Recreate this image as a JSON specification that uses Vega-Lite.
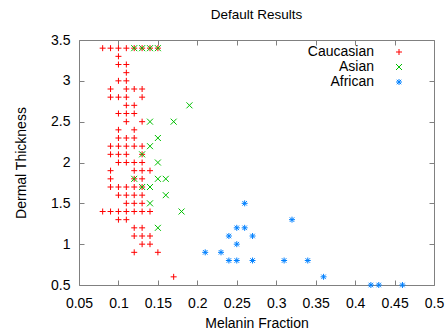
{
  "$schema": "https://vega.github.io/schema/vega-lite/v6.json",
  "width": 355,
  "height": 245,
  "autosize": {"type": "none"},
  "padding": {"left": 79, "top": 40, "right": 12, "bottom": 48},
  "title": {"text": "Default Results", "fontSize": 13.5, "fontWeight": "normal", "font": "Liberation Sans", "color": "#000000", "offset": 12},
  "config": {
    "view": {"stroke": "#808080", "strokeWidth": 1},
    "axis": {"domain": false, "grid": false, "tickColor": "#808080", "tickSize": -5, "labelFlush": false, "labelFont": "Liberation Sans", "titleFont": "Liberation Sans", "labelFontSize": 14, "titleFontSize": 14, "labelColor": "#000000", "titleColor": "#000000", "titleFontWeight": "normal"},
    "legend": {"labelFont": "Liberation Sans", "labelFontSize": 14, "labelColor": "#000000", "labelAlign": "right", "labelOffset": -32, "symbolSize": 36, "symbolStrokeWidth": 1, "rowPadding": 1, "padding": 0}
  },
  "data": {"values": [
    {"melanin": 0.08, "thickness": 3.4, "population": "Caucasian"},
    {"melanin": 0.09, "thickness": 3.4, "population": "Caucasian"},
    {"melanin": 0.10, "thickness": 3.4, "population": "Caucasian"},
    {"melanin": 0.11, "thickness": 3.4, "population": "Caucasian"},
    {"melanin": 0.12, "thickness": 3.4, "population": "Caucasian"},
    {"melanin": 0.13, "thickness": 3.4, "population": "Caucasian"},
    {"melanin": 0.14, "thickness": 3.4, "population": "Caucasian"},
    {"melanin": 0.15, "thickness": 3.4, "population": "Caucasian"},
    {"melanin": 0.10, "thickness": 3.3, "population": "Caucasian"},
    {"melanin": 0.10, "thickness": 3.2, "population": "Caucasian"},
    {"melanin": 0.11, "thickness": 3.2, "population": "Caucasian"},
    {"melanin": 0.11, "thickness": 3.1, "population": "Caucasian"},
    {"melanin": 0.10, "thickness": 3.0, "population": "Caucasian"},
    {"melanin": 0.11, "thickness": 3.0, "population": "Caucasian"},
    {"melanin": 0.09, "thickness": 2.9, "population": "Caucasian"},
    {"melanin": 0.11, "thickness": 2.9, "population": "Caucasian"},
    {"melanin": 0.12, "thickness": 2.9, "population": "Caucasian"},
    {"melanin": 0.13, "thickness": 2.9, "population": "Caucasian"},
    {"melanin": 0.09, "thickness": 2.8, "population": "Caucasian"},
    {"melanin": 0.10, "thickness": 2.8, "population": "Caucasian"},
    {"melanin": 0.11, "thickness": 2.8, "population": "Caucasian"},
    {"melanin": 0.13, "thickness": 2.8, "population": "Caucasian"},
    {"melanin": 0.11, "thickness": 2.7, "population": "Caucasian"},
    {"melanin": 0.12, "thickness": 2.7, "population": "Caucasian"},
    {"melanin": 0.10, "thickness": 2.6, "population": "Caucasian"},
    {"melanin": 0.11, "thickness": 2.6, "population": "Caucasian"},
    {"melanin": 0.12, "thickness": 2.6, "population": "Caucasian"},
    {"melanin": 0.11, "thickness": 2.5, "population": "Caucasian"},
    {"melanin": 0.13, "thickness": 2.5, "population": "Caucasian"},
    {"melanin": 0.10, "thickness": 2.4, "population": "Caucasian"},
    {"melanin": 0.12, "thickness": 2.4, "population": "Caucasian"},
    {"melanin": 0.10, "thickness": 2.3, "population": "Caucasian"},
    {"melanin": 0.11, "thickness": 2.3, "population": "Caucasian"},
    {"melanin": 0.12, "thickness": 2.3, "population": "Caucasian"},
    {"melanin": 0.09, "thickness": 2.2, "population": "Caucasian"},
    {"melanin": 0.10, "thickness": 2.2, "population": "Caucasian"},
    {"melanin": 0.11, "thickness": 2.2, "population": "Caucasian"},
    {"melanin": 0.12, "thickness": 2.2, "population": "Caucasian"},
    {"melanin": 0.13, "thickness": 2.2, "population": "Caucasian"},
    {"melanin": 0.09, "thickness": 2.1, "population": "Caucasian"},
    {"melanin": 0.10, "thickness": 2.1, "population": "Caucasian"},
    {"melanin": 0.11, "thickness": 2.1, "population": "Caucasian"},
    {"melanin": 0.13, "thickness": 2.1, "population": "Caucasian"},
    {"melanin": 0.10, "thickness": 2.0, "population": "Caucasian"},
    {"melanin": 0.11, "thickness": 2.0, "population": "Caucasian"},
    {"melanin": 0.12, "thickness": 2.0, "population": "Caucasian"},
    {"melanin": 0.13, "thickness": 2.0, "population": "Caucasian"},
    {"melanin": 0.09, "thickness": 1.9, "population": "Caucasian"},
    {"melanin": 0.12, "thickness": 1.9, "population": "Caucasian"},
    {"melanin": 0.13, "thickness": 1.9, "population": "Caucasian"},
    {"melanin": 0.14, "thickness": 1.9, "population": "Caucasian"},
    {"melanin": 0.09, "thickness": 1.8, "population": "Caucasian"},
    {"melanin": 0.12, "thickness": 1.8, "population": "Caucasian"},
    {"melanin": 0.13, "thickness": 1.8, "population": "Caucasian"},
    {"melanin": 0.09, "thickness": 1.7, "population": "Caucasian"},
    {"melanin": 0.10, "thickness": 1.7, "population": "Caucasian"},
    {"melanin": 0.11, "thickness": 1.7, "population": "Caucasian"},
    {"melanin": 0.12, "thickness": 1.7, "population": "Caucasian"},
    {"melanin": 0.13, "thickness": 1.7, "population": "Caucasian"},
    {"melanin": 0.10, "thickness": 1.6, "population": "Caucasian"},
    {"melanin": 0.11, "thickness": 1.6, "population": "Caucasian"},
    {"melanin": 0.12, "thickness": 1.6, "population": "Caucasian"},
    {"melanin": 0.13, "thickness": 1.6, "population": "Caucasian"},
    {"melanin": 0.11, "thickness": 1.5, "population": "Caucasian"},
    {"melanin": 0.12, "thickness": 1.5, "population": "Caucasian"},
    {"melanin": 0.13, "thickness": 1.5, "population": "Caucasian"},
    {"melanin": 0.08, "thickness": 1.4, "population": "Caucasian"},
    {"melanin": 0.09, "thickness": 1.4, "population": "Caucasian"},
    {"melanin": 0.10, "thickness": 1.4, "population": "Caucasian"},
    {"melanin": 0.11, "thickness": 1.4, "population": "Caucasian"},
    {"melanin": 0.12, "thickness": 1.4, "population": "Caucasian"},
    {"melanin": 0.13, "thickness": 1.4, "population": "Caucasian"},
    {"melanin": 0.14, "thickness": 1.4, "population": "Caucasian"},
    {"melanin": 0.10, "thickness": 1.3, "population": "Caucasian"},
    {"melanin": 0.11, "thickness": 1.3, "population": "Caucasian"},
    {"melanin": 0.12, "thickness": 1.2, "population": "Caucasian"},
    {"melanin": 0.13, "thickness": 1.2, "population": "Caucasian"},
    {"melanin": 0.12, "thickness": 1.1, "population": "Caucasian"},
    {"melanin": 0.13, "thickness": 1.1, "population": "Caucasian"},
    {"melanin": 0.14, "thickness": 1.1, "population": "Caucasian"},
    {"melanin": 0.13, "thickness": 1.0, "population": "Caucasian"},
    {"melanin": 0.14, "thickness": 1.0, "population": "Caucasian"},
    {"melanin": 0.12, "thickness": 0.9, "population": "Caucasian"},
    {"melanin": 0.15, "thickness": 0.9, "population": "Caucasian"},
    {"melanin": 0.17, "thickness": 0.6, "population": "Caucasian"},
    {"melanin": 0.12, "thickness": 3.4, "population": "Asian"},
    {"melanin": 0.13, "thickness": 3.4, "population": "Asian"},
    {"melanin": 0.14, "thickness": 3.4, "population": "Asian"},
    {"melanin": 0.15, "thickness": 3.4, "population": "Asian"},
    {"melanin": 0.19, "thickness": 2.7, "population": "Asian"},
    {"melanin": 0.14, "thickness": 2.5, "population": "Asian"},
    {"melanin": 0.17, "thickness": 2.5, "population": "Asian"},
    {"melanin": 0.15, "thickness": 2.3, "population": "Asian"},
    {"melanin": 0.14, "thickness": 2.2, "population": "Asian"},
    {"melanin": 0.13, "thickness": 2.1, "population": "Asian"},
    {"melanin": 0.15, "thickness": 2.0, "population": "Asian"},
    {"melanin": 0.12, "thickness": 1.8, "population": "Asian"},
    {"melanin": 0.15, "thickness": 1.8, "population": "Asian"},
    {"melanin": 0.16, "thickness": 1.8, "population": "Asian"},
    {"melanin": 0.13, "thickness": 1.7, "population": "Asian"},
    {"melanin": 0.14, "thickness": 1.7, "population": "Asian"},
    {"melanin": 0.16, "thickness": 1.6, "population": "Asian"},
    {"melanin": 0.14, "thickness": 1.5, "population": "Asian"},
    {"melanin": 0.18, "thickness": 1.4, "population": "Asian"},
    {"melanin": 0.15, "thickness": 1.2, "population": "Asian"},
    {"melanin": 0.26, "thickness": 1.5, "population": "African"},
    {"melanin": 0.32, "thickness": 1.3, "population": "African"},
    {"melanin": 0.25, "thickness": 1.2, "population": "African"},
    {"melanin": 0.26, "thickness": 1.2, "population": "African"},
    {"melanin": 0.24, "thickness": 1.1, "population": "African"},
    {"melanin": 0.27, "thickness": 1.1, "population": "African"},
    {"melanin": 0.25, "thickness": 1.0, "population": "African"},
    {"melanin": 0.21, "thickness": 0.9, "population": "African"},
    {"melanin": 0.23, "thickness": 0.9, "population": "African"},
    {"melanin": 0.24, "thickness": 0.8, "population": "African"},
    {"melanin": 0.25, "thickness": 0.8, "population": "African"},
    {"melanin": 0.27, "thickness": 0.8, "population": "African"},
    {"melanin": 0.31, "thickness": 0.8, "population": "African"},
    {"melanin": 0.34, "thickness": 0.8, "population": "African"},
    {"melanin": 0.36, "thickness": 0.6, "population": "African"},
    {"melanin": 0.42, "thickness": 0.5, "population": "African"},
    {"melanin": 0.43, "thickness": 0.5, "population": "African"},
    {"melanin": 0.46, "thickness": 0.5, "population": "African"}
  ]},
  "layer": [
    {
      "mark": {"type": "point", "filled": false, "strokeWidth": 1, "size": 36, "opacity": 1},
      "encoding": {
        "x": {"field": "melanin", "type": "quantitative",
              "scale": {"domain": [0.05, 0.5], "nice": false, "zero": false},
              "axis": {"orient": "bottom", "values": [0.05, 0.1, 0.15, 0.2, 0.25, 0.3, 0.35, 0.4, 0.45, 0.5], "format": ".2~f", "labelPadding": 16, "title": "Melanin Fraction", "titlePadding": 6}},
        "y": {"field": "thickness", "type": "quantitative",
              "scale": {"domain": [0.5, 3.5], "nice": false, "zero": false},
              "axis": {"orient": "left", "values": [0.5, 1, 1.5, 2, 2.5, 3, 3.5], "format": ".1~f", "labelPadding": 14, "title": "Dermal Thickness", "titlePadding": 22}},
        "color": {"field": "population", "type": "nominal",
                  "scale": {"domain": ["Caucasian", "Asian", "African"], "range": ["#ff0000", "#00c000", "#0080ff"]},
                  "legend": {"title": null, "orient": "none", "legendX": 313, "legendY": 5}},
        "shape": {"field": "population", "type": "nominal",
                  "scale": {"domain": ["Caucasian", "Asian", "African"], "range": ["M-1,0H1M0,-1V1", "M-1,-1L1,1M-1,1L1,-1", "M-1,0H1M0,-1V1M-0.75,-0.75L0.75,0.75M-0.75,0.75L0.75,-0.75"]},
                  "legend": {"title": null, "orient": "none", "legendX": 313, "legendY": 5}}
      }
    },
    {
      "mark": {"type": "point", "opacity": 0},
      "encoding": {
        "x": {"field": "melanin", "type": "quantitative",
              "scale": {"domain": [0.05, 0.5], "nice": false, "zero": false},
              "axis": {"orient": "top", "values": [0.05, 0.1, 0.15, 0.2, 0.25, 0.3, 0.35, 0.4, 0.45, 0.5], "labels": false, "title": null}},
        "y": {"field": "thickness", "type": "quantitative",
              "scale": {"domain": [0.5, 3.5], "nice": false, "zero": false},
              "axis": {"orient": "right", "values": [0.5, 1, 1.5, 2, 2.5, 3, 3.5], "labels": false, "title": null}}
      }
    }
  ],
  "resolve": {"axis": {"x": "independent", "y": "independent"}}
}
